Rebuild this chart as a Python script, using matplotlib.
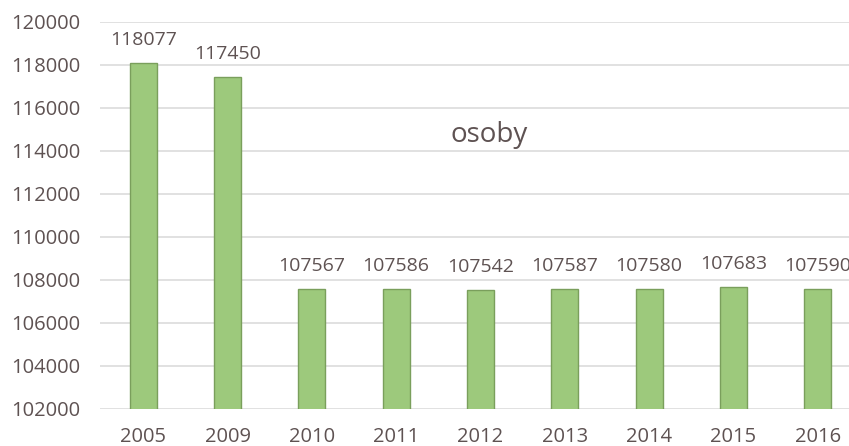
import matplotlib
matplotlib.use("Agg")
import matplotlib.pyplot as plt

years = ["2005", "2009", "2010", "2011", "2012", "2013", "2014", "2015", "2016"]
values = [118077, 117450, 107567, 107586, 107542, 107587, 107580, 107683, 107590]
yticks = [102000, 104000, 106000, 108000, 110000, 112000, 114000, 116000, 118000, 120000]

plt.rcParams['font.family'] = ['Open Sans', 'DejaVu Sans']
txt = '#5e5252'

fig = plt.figure(figsize=(8.49, 4.46), dpi=100)
ax = fig.add_axes([0.118, 0.083, 0.882, 0.868])
x = list(range(len(years)))
ax.bar(x, values, width=0.32, color='#9dc97c', edgecolor='#7a9f5c', linewidth=1.0, zorder=3)
ax.set_ylim(102000, 120000)
ax.set_xlim(-0.51, 8.37)
ax.set_yticks(yticks)
ax.set_yticklabels([str(t) for t in yticks])
ax.set_xticks(x)
ax.set_xticklabels(years)
ax.grid(axis='y', color='#dcdcdc', linewidth=1.2, zorder=0)
for s in ax.spines.values():
    s.set_visible(False)
ax.tick_params(axis='both', length=0, colors=txt, labelsize=14.5)
ax.tick_params(axis='y', pad=14)
ax.tick_params(axis='x', pad=13)
for xi, v in zip(x, values):
    ax.annotate(str(v), (xi, v), xytext=(0, 10), textcoords='offset points',
                ha='center', va='bottom', fontsize=14, color=txt, annotation_clip=False)
ax.text(0.52, 0.708, 'osoby', transform=ax.transAxes, ha='center', va='center',
        fontsize=20, color=txt)
fig.savefig('out.png', dpi=100)
